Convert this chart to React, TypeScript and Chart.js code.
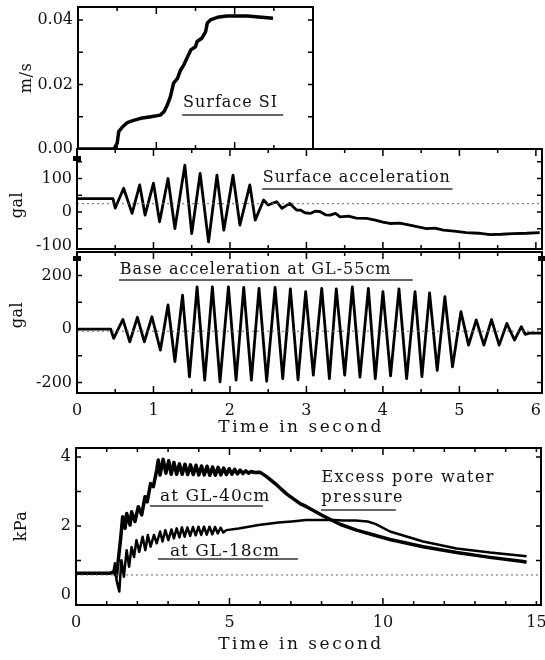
import React, { useEffect, useRef } from "react";
import { Chart, registerables } from "chart.js";

Chart.register(...registerables);

const W = 545;
const H = 660;
const FONT = "'DejaVu Serif', 'Liberation Serif', serif";
const YW = 70;
const XH = 30;

// ---------- Panel 1: Surface SI (m/s) ----------
const SI_T = [0, 0.46, 0.5, 0.52, 0.57, 0.63, 0.7, 0.8, 0.93, 1.05, 1.1, 1.14, 1.18, 1.22, 1.27, 1.31, 1.35, 1.39, 1.44, 1.5, 1.52, 1.58, 1.63, 1.65, 1.69, 1.78, 1.9, 2.16, 2.49];
const SI_V = [0, 0, 0.0018, 0.0054, 0.0069, 0.0082, 0.0088, 0.0095, 0.01, 0.0105, 0.0116, 0.0136, 0.0162, 0.0204, 0.0219, 0.0245, 0.026, 0.0281, 0.0307, 0.0317, 0.0333, 0.0343, 0.0364, 0.039, 0.04, 0.0408, 0.0412, 0.0412, 0.0405];
const SI_YTICKS = [0, 0.02, 0.04];
const SI_YLABELS = ["0.00", "0.02", "0.04"];

// ---------- Panel 2: Surface acceleration (gal) ----------
const SA_T = [0, 0.47, 0.5, 0.61, 0.72, 0.82, 0.89, 1.0, 1.08, 1.19, 1.28, 1.41, 1.5, 1.61, 1.72, 1.83, 1.92, 2.04, 2.13, 2.26, 2.33, 2.44, 2.5, 2.61, 2.68, 2.78, 2.87,
  2.92, 2.98, 3.05, 3.12, 3.18, 3.25, 3.31, 3.38, 3.44, 3.55, 3.65, 3.79, 3.9, 4.0, 4.09, 4.22, 4.35, 4.46, 4.57, 4.68, 4.79, 4.93, 5.09, 5.25, 5.4, 5.55, 5.7, 5.88, 6.05];
const SA_V = [40, 40, 12, 71, -4, 81, -9, 86, -29, 100, -49, 140, -64, 115, -89, 110, -54, 110, -39, 81, -24, 36, 21, 31, 11, 26, 6,
  6, -2, -4, 3, 1, -8, -9, -4, -14, -12, -18, -19, -24, -30, -34, -33, -39, -44, -49, -48, -54, -57, -61, -63, -67, -66, -64, -63, -61];
const SA_REF_T = [0, 6.08];
const SA_REF_V = [25, 25];
const SA_YTICKS = [-100, 0, 100];

// ---------- Panel 3: Base acceleration at GL-55cm (gal) ----------
const BA_T = [0, 0.44, 0.48, 0.6, 0.69, 0.79, 0.88, 0.98, 1.09, 1.19, 1.28, 1.38, 1.47, 1.57, 1.67, 1.77, 1.87, 1.98, 2.08, 2.18, 2.28, 2.38, 2.48, 2.59, 2.69, 2.79, 2.89, 2.99, 3.09, 3.2, 3.3, 3.39, 3.5, 3.6, 3.7, 3.81, 3.9, 4.0, 4.1, 4.21, 4.31, 4.42, 4.51, 4.61, 4.71, 4.81, 4.91, 5.02, 5.12, 5.22, 5.32, 5.42, 5.52, 5.62, 5.72, 5.81, 5.86, 5.92, 6.08];
const BA_V = [0, 0, -35, 36, -48, 44, -48, 46, -79, 90, -122, 127, -179, 158, -191, 158, -197, 158, -191, 156, -191, 152, -195, 156, -185, 150, -190, 140, -172, 152, -185, 150, -172, 158, -180, 152, -185, 140, -175, 150, -185, 140, -178, 135, -154, 121, -141, 65, -60, 34, -60, 35, -60, 21, -41, 9, -20, -15, -15];
const BA_REF_T = [0, 6.08];
const BA_REF_V = [-8, -8];
const BA_YTICKS = [-200, 0, 200];
const ACC_XTICKS = [0, 1, 2, 3, 4, 5, 6];

// ---------- Panel 4: Excess pore water pressure (kPa) ----------
const P40_T = [0, 1.11, 1.22, 1.32, 1.45, 1.52, 1.6, 1.65, 1.76, 1.81, 1.92, 2.03, 2.14, 2.25, 2.32, 2.43, 2.52, 2.63, 2.68, 2.74, 2.84, 2.93, 3.02, 3.1, 3.19, 3.28,
  3.37, 3.46, 3.55, 3.64, 3.73, 3.82, 3.91, 4.0, 4.09, 4.18, 4.27, 4.36, 4.45, 4.54, 4.63, 4.72, 4.81, 4.9, 4.99, 5.08, 5.17, 5.26, 5.35, 5.44, 5.53, 5.62, 5.71, 5.8,
  5.99, 6.21, 6.54, 6.86, 7.3, 7.51, 8.06, 8.6, 9.14, 9.7, 10.23, 11.31, 12.4, 13.49, 14.57, 14.68];
const P40_V = [0.63, 0.63, 0.67, 0.55, 1.59, 2.27, 1.93, 2.36, 2.03, 2.41, 2.13, 2.56, 2.32, 2.85, 2.7, 3.23, 3.14, 3.62, 3.91, 3.48, 3.93, 3.53, 3.89, 3.5, 3.84, 3.5,
  3.8, 3.5, 3.79, 3.49, 3.77, 3.49, 3.76, 3.48, 3.74, 3.48, 3.73, 3.47, 3.71, 3.47, 3.7, 3.48, 3.68, 3.49, 3.66, 3.5, 3.64, 3.51, 3.62, 3.52, 3.6, 3.53, 3.58, 3.55,
  3.56, 3.43, 3.19, 2.93, 2.65, 2.56, 2.29, 2.05, 1.88, 1.74, 1.61, 1.4, 1.23, 1.09, 0.97, 0.95];
const P18_T = [0, 1.11, 1.22, 1.27, 1.32, 1.41, 1.48, 1.56, 1.65, 1.73, 1.81, 1.89, 1.97, 2.06, 2.17, 2.26, 2.34, 2.43, 2.54, 2.63, 2.74, 2.82, 2.91, 3.01, 3.11, 3.19, 3.28,
  3.37, 3.45, 3.54, 3.63, 3.72, 3.81, 3.9, 3.99, 4.08, 4.17, 4.26, 4.35, 4.44, 4.53, 4.62, 4.71, 4.8, 4.9, 5.3, 5.95, 6.6, 7.03, 7.5, 8.06, 8.4, 8.7, 9.1, 9.5, 9.75,
  10.23, 11.31, 12.4, 13.49, 14.6, 14.68];
const P18_V = [0.63, 0.63, 0.67, 0.92, 0.43, 0.1, 1.01, 0.53, 1.3, 0.82, 1.39, 1.1, 1.59, 1.25, 1.69, 1.3, 1.74, 1.4, 1.74, 1.5, 1.84, 1.55, 1.88, 1.59, 1.9, 1.64, 1.93,
  1.67, 1.96, 1.69, 1.96, 1.71, 1.97, 1.73, 1.98, 1.74, 1.98, 1.75, 1.98, 1.76, 1.97, 1.78, 1.95, 1.81, 1.88, 1.93, 2.03, 2.1, 2.13, 2.17, 2.17, 2.17, 2.16, 2.16, 2.13, 2.06,
  1.84, 1.55, 1.35, 1.23, 1.13, 1.12];
const PW_REF_T = [0, 15.15];
const PW_REF_V = [0.58, 0.58];
const PW_YTICKS = [0, 2, 4];
const PW_XTICKS = [0, 5, 10, 15];

type Txt = { text: string; x: number; y: number; align?: CanvasTextAlign; size?: number; spacing?: number; rotate?: boolean; ul?: [number, number, number] };
type Series = { t: number[]; v: number[]; width: number; color?: string; dash?: number[] };
type PanelCfg = {
  area: { l: number; t: number; r: number; b: number };
  x: [number, number];
  y: [number, number];
  xLabels?: number[];
  yTicks: number[];
  yFmt?: (v: number, i: number) => string;
  series: Series[];
  xMajor: number[];
  xMinor: number[];
  yMarks: number[];
  texts: Txt[];
  breaks?: { side: "left" | "right"; dy: number }[];
};

function makeDecor(p: PanelCfg) {
  return {
    id: "decor",
    afterDatasetsDraw(chart: any) {
      const { ctx, chartArea: a, scales } = chart;
      const xs = scales.x;
      const ys = scales.y;
      ctx.save();
      ctx.strokeStyle = "#000";
      ctx.lineWidth = 2;
      ctx.strokeRect(a.left, a.top, a.right - a.left, a.bottom - a.top);
      ctx.lineWidth = 1.5;
      ctx.beginPath();
      const xm = (v: number, len: number) => {
        const px = xs.getPixelForValue(v);
        ctx.moveTo(px, a.bottom);
        ctx.lineTo(px, a.bottom - len);
        ctx.moveTo(px, a.top);
        ctx.lineTo(px, a.top + len);
      };
      p.xMajor.forEach((v) => xm(v, 7));
      p.xMinor.forEach((v) => xm(v, 4));
      p.yMarks.forEach((v) => {
        const py = ys.getPixelForValue(v);
        ctx.moveTo(a.left, py);
        ctx.lineTo(a.left + 5, py);
        ctx.moveTo(a.right, py);
        ctx.lineTo(a.right - 5, py);
      });
      ctx.stroke();
      ctx.fillStyle = "#000";
      (p.breaks || []).forEach((b) => {
        const bx = b.side === "left" ? a.left : a.right;
        ctx.fillRect(bx - 4, a.top + b.dy - 2, 8, 5);
      });
      p.texts.forEach((t) => {
        const px = xs.getPixelForValue(t.x);
        const py = ys.getPixelForValue(t.y);
        ctx.save();
        ctx.font = `${t.size || 16}px ${FONT}`;
        ctx.letterSpacing = `${t.spacing ?? 1}px`;
        ctx.fillStyle = "#111";
        ctx.textBaseline = "middle";
        if (t.rotate) {
          ctx.translate(px, py);
          ctx.rotate(-Math.PI / 2);
          ctx.textAlign = "center";
          ctx.fillText(t.text, 0, 0);
        } else {
          ctx.textAlign = t.align || "left";
          ctx.fillText(t.text, px, py);
        }
        ctx.restore();
        if (t.ul) {
          const uy = ys.getPixelForValue(t.ul[2]);
          ctx.save();
          ctx.strokeStyle = "#333";
          ctx.lineWidth = 1.5;
          ctx.beginPath();
          ctx.moveTo(xs.getPixelForValue(t.ul[0]), uy);
          ctx.lineTo(xs.getPixelForValue(t.ul[1]), uy);
          ctx.stroke();
          ctx.restore();
        }
      });
      ctx.restore();
    },
  };
}

function buildConfig(p: PanelCfg): any {
  const tickFont = { family: FONT, size: 16 };
  return {
    type: "line",
    data: {
      datasets: p.series.map((s) => ({
        data: s.t.map((t, i) => ({ x: t, y: s.v[i] })),
        borderColor: s.color || "#000",
        borderWidth: s.width,
        borderDash: s.dash || [],
        pointRadius: 0,
        tension: 0,
        fill: false,
        borderJoinStyle: "round",
      })),
    },
    options: {
      responsive: false,
      animation: false,
      devicePixelRatio: 1,
      events: [],
      layout: {
        padding: {
          left: p.area.l - YW,
          top: p.area.t,
          right: W - p.area.r,
          bottom: H - p.area.b - (p.xLabels ? XH : 0),
        },
      },
      plugins: { legend: { display: false }, tooltip: { enabled: false } },
      scales: {
        x: {
          type: "linear",
          min: p.x[0],
          max: p.x[1],
          grid: { display: false, drawTicks: false },
          border: { display: false },
          ticks: {
            display: !!p.xLabels,
            font: tickFont,
            color: "#111",
            padding: 8,
            maxRotation: 0,
            autoSkip: false,
          },
          afterBuildTicks: (s: any) => {
            s.ticks = (p.xLabels || p.xMajor).map((v) => ({ value: v }));
          },
          afterFit: (s: any) => {
            s.height = p.xLabels ? XH : 0;
            s.paddingLeft = 0;
            s.paddingRight = 0;
          },
        },
        y: {
          type: "linear",
          min: p.y[0],
          max: p.y[1],
          grid: { display: false, drawTicks: false },
          border: { display: false },
          ticks: {
            font: tickFont,
            color: "#111",
            padding: 5,
            autoSkip: false,
            callback: (v: number, i: number) => (p.yFmt ? p.yFmt(v, i) : String(v)),
          },
          afterBuildTicks: (s: any) => {
            s.ticks = p.yTicks.map((v) => ({ value: v }));
          },
          afterFit: (s: any) => {
            s.width = YW;
            s.paddingTop = 0;
            s.paddingBottom = 0;
          },
        },
      },
    },
    plugins: [makeDecor(p)],
  };
}

const halfSteps = [0.5, 1.5, 2.5, 3.5, 4.5, 5.5];

const PANELS: PanelCfg[] = [
  {
    area: { l: 78, t: 7, r: 313, b: 149 },
    x: [0, 3.0],
    y: [0, 0.044],
    yTicks: SI_YTICKS,
    yFmt: (_v, i) => SI_YLABELS[i],
    series: [{ t: SI_T, v: SI_V, width: 3.5 }],
    xMajor: [1, 2],
    xMinor: [0.5, 1.5, 2.5],
    yMarks: [0.01, 0.02, 0.03, 0.04],
    texts: [
      { text: "Surface SI", x: 1.34, y: 0.01425, ul: [1.33, 2.62, 0.0105] },
      { text: "m/s", x: -0.65, y: 0.022, rotate: true, spacing: 0.5 },
    ],
  },
  {
    area: { l: 77, t: 149, r: 542, b: 249 },
    x: [0, 6.08],
    y: [-110, 188],
    yTicks: SA_YTICKS,
    series: [
      { t: SA_REF_T, v: SA_REF_V, width: 1, color: "#666", dash: [2, 3] },
      { t: SA_T, v: SA_V, width: 2.8 },
    ],
    xMajor: [1, 2, 3, 4, 5, 6],
    xMinor: halfSteps,
    yMarks: [-50, 0, 50, 100, 150],
    breaks: [{ side: "left", dy: 9 }],
    texts: [
      { text: "Surface acceleration", x: 2.43, y: 101, ul: [2.42, 4.91, 69] },
      { text: "gal", x: -0.77, y: 21, rotate: true, spacing: 0.5 },
    ],
  },
  {
    area: { l: 77, t: 252, r: 542, b: 393 },
    x: [0, 6.08],
    y: [-239, 288],
    xLabels: ACC_XTICKS,
    yTicks: BA_YTICKS,
    series: [
      { t: BA_REF_T, v: BA_REF_V, width: 1, color: "#666", dash: [2, 3] },
      { t: BA_T, v: BA_V, width: 2.8 },
    ],
    xMajor: [1, 2, 3, 4, 5],
    xMinor: halfSteps,
    yMarks: [-200, -100, 0, 100, 200],
    breaks: [{ side: "left", dy: 6 }, { side: "right", dy: 6 }],
    texts: [
      { text: "Base acceleration at GL-55cm", x: 0.56, y: 221, ul: [0.55, 4.39, 183] },
      { text: "gal", x: -0.77, y: 52, rotate: true, spacing: 0.5 },
      { text: "Time in second", x: 2.93, y: -370, align: "center", size: 17, spacing: 2.5 },
    ],
  },
  {
    area: { l: 76, t: 448, r: 541, b: 605 },
    x: [0, 15.15],
    y: [-0.29, 4.26],
    xLabels: PW_XTICKS,
    yTicks: PW_YTICKS,
    series: [
      { t: PW_REF_T, v: PW_REF_V, width: 1, color: "#666", dash: [2, 3] },
      { t: P18_T, v: P18_V, width: 2.5 },
      { t: P40_T, v: P40_V, width: 3.5 },
    ],
    xMajor: [5, 10],
    xMinor: [1, 2, 3, 4, 6, 7, 8, 9, 11, 12, 13, 14, 15],
    yMarks: [1, 2, 3, 4],
    texts: [
      { text: "at GL-40cm", x: 2.74, y: 2.84, size: 17, ul: [2.41, 6.09, 2.58] },
      { text: "at GL-18cm", x: 3.06, y: 1.25, size: 17, ul: [2.67, 7.23, 1.04] },
      { text: "Excess pore water", x: 8.0, y: 3.39, spacing: 1.4 },
      { text: "pressure", x: 8.0, y: 2.81, spacing: 1.4, ul: [7.98, 10.42, 2.46] },
      { text: "kPa", x: -1.76, y: 2.0, rotate: true, spacing: 0.5 },
      { text: "Time in second", x: 7.33, y: -1.45, align: "center", size: 17, spacing: 2.5 },
    ],
  },
];

function Panel({ cfg }: { cfg: PanelCfg }) {
  const ref = useRef<HTMLCanvasElement>(null);
  useEffect(() => {
    if (!ref.current) return;
    const chart = new Chart(ref.current, buildConfig(cfg));
    return () => chart.destroy();
  }, [cfg]);
  return (
    <canvas
      ref={ref}
      width={W}
      height={H}
      style={{ position: "absolute", left: 0, top: 0, width: W, height: H, pointerEvents: "none" }}
    />
  );
}

export default function App() {
  return (
    <div style={{ position: "absolute", left: 0, top: 0, width: W, height: H, background: "#fff" }}>
      {PANELS.map((p, i) => (
        <Panel key={i} cfg={p} />
      ))}
    </div>
  );
}
